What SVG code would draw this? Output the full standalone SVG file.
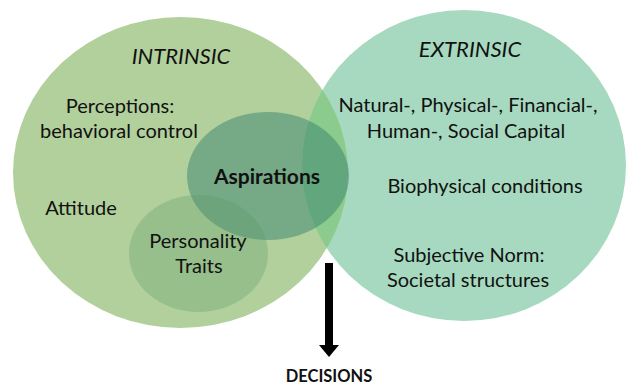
<svg xmlns="http://www.w3.org/2000/svg" width="626" height="385" viewBox="0 0 626 385">
<style>
text{font-family:Lato,"Open Sans","Liberation Sans",sans-serif;font-size:20px;fill:#111;text-anchor:middle}
.h{font-style:italic;font-size:22px}
.b{font-weight:bold}
.a{font-size:21px}
.d{font-size:16.5px}
</style>
<defs>
<clipPath id="leftClip"><ellipse cx="180.5" cy="172.5" rx="167.5" ry="155.5"/></clipPath>
</defs>
<rect width="626" height="385" fill="#ffffff"/>
<g id="intrinsic">
<ellipse cx="180.5" cy="172.5" rx="167.5" ry="155.5" fill="#b1d09c"/>
</g>
<g id="extrinsic">
<ellipse cx="464" cy="165.5" rx="162" ry="155.5" fill="#a6d9bf"/>
<ellipse cx="464" cy="165.5" rx="162" ry="155.5" fill="#8ccb8e" clip-path="url(#leftClip)"/>
</g>
<g id="aspirations">
<ellipse cx="268" cy="176" rx="81" ry="64" fill="#2e7a6a" fill-opacity="0.45"/>
</g>
<g id="personality">
<ellipse cx="198.5" cy="253.5" rx="69.5" ry="58.5" fill="#5d9767" fill-opacity="0.3"/>
</g>
<g id="connectors">
<rect x="325" y="263" width="8" height="84" fill="#000"/>
<polygon points="319,345 339,345 329,357" fill="#000"/>
</g>
<g id="labels">
<text class="h" x="181" y="64">INTRINSIC</text>
<text x="120" y="113">Perceptions:</text>
<text x="119" y="138">behavioral control</text>
<text x="81" y="215">Attitude</text>
<text class="b a" x="267" y="184">Aspirations</text>
<text x="198" y="248">Personality</text>
<text x="199" y="273">Traits</text>
<text class="h" x="470" y="57">EXTRINSIC</text>
<text x="468" y="112">Natural-, Physical-, Financial-,</text>
<text x="466" y="138">Human-, Social Capital</text>
<text x="485" y="193">Biophysical conditions</text>
<text x="469" y="262">Subjective Norm:</text>
<text x="468" y="287">Societal structures</text>
<text class="b d" x="329" y="382">DECISIONS</text>
</g>
</svg>
